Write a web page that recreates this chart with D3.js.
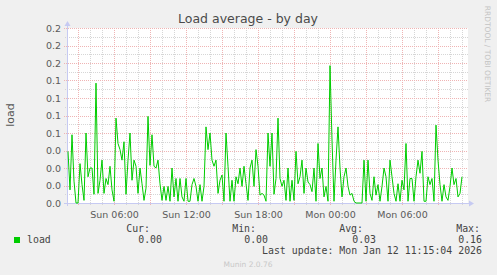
<!DOCTYPE html>
<html>
<head>
<meta charset="utf-8">
<script src="https://cdn.jsdelivr.net/npm/d3@7"></script>
<style>
  html, body { margin: 0; padding: 0; background: #f0f0f0; }
  svg { display: block; }
</style>
</head>
<body>
<script>
// Chart data
const seriesName = "load";
const seriesStart = new Date(2026, 0, 11, 2, 10);   // first sample, Sun 02:10
const stepMinutes = 10;
const loadValues = [
    0.059, 0.015, 0.078, 0.025, 0, 0, 0.045, 0.021, 0.003, 0.08,
    0.03, 0.04, 0.04, 0.01, 0.137, 0.011, 0.026, 0.049, 0.011, 0.028,
    0.021, 0.042, 0.015, 0.002, 0.097, 0.068, 0.061, 0.049, 0.07, 0.01,
    0.049, 0.08, 0.026, 0.049, 0.042, 0.011, 0.04, 0.022, 0.003, 0.017,
    0.099, 0.043, 0.078, 0.042, 0.04, 0.049, 0.022, 0.003, 0.019, 0.003,
    0.019, 0.002, 0.04, 0.007, 0.028, 0.002, 0.028, 0.007, 0.002, 0.028,
    0.002, 0.002, 0.021, 0.028, 0.019, 0.002, 0.021, 0.002, 0.019, 0.087,
    0.061, 0.08, 0.049, 0.042, 0.049, 0.011, 0.026, 0.032, 0.002, 0.08,
    0.042, 0.002, 0.026, 0.002, 0.03, 0.022, 0.04, 0.019, 0.042, 0.022,
    0.003,
    0.04, 0.049, 0.019, 0.061, 0.042, 0.009, 0.011, 0.009, 0.002, 0.08,
    0.042, 0.08, 0.01, 0.028, 0.097, 0.028, 0.019, 0.026, 0.003, 0.04,
    0.002, 0.026, 0.003, 0.059, 0.022, 0.03, 0.049, 0.011, 0.04, 0.024,
    0.021, 0.013, 0.04, 0.002, 0.068, 0.028, 0.04, 0.007, 0.019, 0.002,
    0.157, 0.072, 0.002, 0.049, 0.087, 0.04, 0.007, 0.03, 0.04, 0.019,
    0.009, 0.011, 0.002, 0, 0, 0, 0, 0.049, 0.002, 0.049,
    0.011, 0.003, 0.03, 0.009, 0.021, 0.002, 0.019, 0.04, 0.03, 0.002,
    0.049, 0.03, 0.011, 0.002, 0.022, 0.002, 0.026, 0.015, 0.068, 0.002,
    0.028, 0.028, 0.002, 0.03, 0.049, 0.034, 0.059, 0.002, 0.002, 0.03,
    0.021, 0.028, 0.002, 0.089, 0.049, 0.021, 0.002, 0.021, 0.007, 0.003,
    0.019, 0.04, 0.021, 0.028, 0.007, 0.011, 0.03
];

// Axis ticks
const yTickValues = [0, 0.02, 0.04, 0.06, 0.08, 0.1, 0.12, 0.14, 0.16, 0.18, 0.2];
const yTickLabels = ["0.0", "0.0", "0.0", "0.0", "0.1", "0.1", "0.1", "0.1", "0.2", "0.2", "0.2"];
const xLabelTimes = [
    new Date(2026, 0, 11, 6), new Date(2026, 0, 11, 12), new Date(2026, 0, 11, 18),
    new Date(2026, 0, 12, 0), new Date(2026, 0, 12, 6)
];
const xLabelTexts = ["Sun 06:00", "Sun 12:00", "Sun 18:00", "Mon 00:00", "Mon 06:00"];

// Legend
const legendHeads = ["Cur:", "Min:", "Avg:", "Max:"];
const legendValues = ["0.00", "0.00", "0.03", "0.16"];
const lastUpdate = "Last update: Mon Jan 12 11:15:04 2026";

// Layout
const width = 497, height = 275;
const plotLeft = 67, plotRight = 468, plotTop = 28, plotBottom = 203;
const axisColor = "#c6caf2";
const minorGrid = "#d6d6d6", majorGrid = "#efb4b4";
const sans = "'DejaVu Sans', sans-serif", mono = "'DejaVu Sans Mono', monospace";

const data = loadValues.map((v, i) => ({
    t: new Date(seriesStart.getTime() + i * stepMinutes * 60000),
    v: v
}));

const x = d3.scaleTime()
    .domain([new Date(2026, 0, 11, 2, 5), new Date(2026, 0, 12, 11, 30)])
    .range([plotLeft, plotRight]);
const y = d3.scaleLinear().domain([0, 0.2]).range([plotBottom, plotTop]);

const svg = d3.select("body").append("svg")
    .attr("width", width)
    .attr("height", height);

svg.append("rect").attr("width", width).attr("height", height).attr("fill", "#f0f0f0");
svg.append("rect")
    .attr("x", plotLeft).attr("y", plotTop)
    .attr("width", plotRight - plotLeft).attr("height", plotBottom - plotTop)
    .attr("fill", "#ffffff");

// Grid
const grid = svg.append("g").attr("shape-rendering", "crispEdges").attr("stroke-dasharray", "1,1");

const hours = x.ticks(d3.timeHour.every(1));
grid.selectAll("line.vminor")
    .data(hours.filter(d => d.getHours() % 3 !== 0))
    .join("line")
    .attr("x1", d => Math.round(x(d)) + 0.5).attr("x2", d => Math.round(x(d)) + 0.5)
    .attr("y1", plotTop).attr("y2", plotBottom + 2)
    .attr("stroke", minorGrid);

const yMinor = d3.range(0, 10).map(i => yTickValues[i] + 0.01);
grid.selectAll("line.hminor")
    .data(yMinor)
    .join("line")
    .attr("x1", plotLeft - 2).attr("x2", plotRight)
    .attr("y1", d => Math.round(y(d)) + 0.5).attr("y2", d => Math.round(y(d)) + 0.5)
    .attr("stroke", minorGrid);

grid.selectAll("line.vmajor")
    .data(hours.filter(d => d.getHours() % 3 === 0))
    .join("line")
    .attr("x1", d => Math.round(x(d)) + 0.5).attr("x2", d => Math.round(x(d)) + 0.5)
    .attr("y1", plotTop).attr("y2", plotBottom + 3)
    .attr("stroke", majorGrid);

grid.selectAll("line.hmajor")
    .data(yTickValues.slice(1))
    .join("line")
    .attr("x1", plotLeft - 3).attr("x2", plotRight)
    .attr("y1", d => Math.round(y(d)) + 0.5).attr("y2", d => Math.round(y(d)) + 0.5)
    .attr("stroke", majorGrid);

// Axes
svg.append("line")
    .attr("x1", plotLeft + 0.5).attr("x2", plotLeft + 0.5)
    .attr("y1", plotBottom + 3).attr("y2", plotTop - 5)
    .attr("stroke", axisColor).attr("shape-rendering", "crispEdges");
svg.append("line")
    .attr("x1", plotLeft - 3).attr("x2", plotRight + 2)
    .attr("y1", plotBottom + 0.5).attr("y2", plotBottom + 0.5)
    .attr("stroke", axisColor).attr("shape-rendering", "crispEdges");
svg.append("path")
    .attr("d", `M${plotLeft - 2.5},${plotTop - 2}L${plotLeft + 3.5},${plotTop - 2}L${plotLeft + 0.5},${plotTop - 7}Z`)
    .attr("fill", axisColor);
svg.append("path")
    .attr("d", `M${plotRight + 1},${plotBottom - 2.5}L${plotRight + 1},${plotBottom + 3.5}L${plotRight + 6},${plotBottom + 0.5}Z`)
    .attr("fill", axisColor);

// Y tick labels
svg.append("g")
    .selectAll("text")
    .data(yTickValues)
    .join("text")
    .attr("x", plotLeft - 6)
    .attr("y", d => y(d) + 3.5)
    .attr("text-anchor", "end")
    .attr("font-family", sans).attr("font-size", 9.5)
    .attr("fill", "#5a5a5a")
    .text((d, i) => yTickLabels[i]);

// X tick labels
svg.append("g")
    .selectAll("text")
    .data(xLabelTimes)
    .join("text")
    .attr("x", d => x(d) + 0.5)
    .attr("y", plotBottom + 15)
    .attr("text-anchor", "middle")
    .attr("font-family", sans).attr("font-size", 9.5)
    .attr("fill", "#5a5a5a")
    .text((d, i) => xLabelTexts[i]);

// Series line
svg.append("path")
    .datum(data)
    .attr("fill", "none")
    .attr("stroke", "#00cc00")
    .attr("stroke-width", 1)
    .attr("stroke-linejoin", "round")
    .attr("d", d3.line().x(d => x(d.t)).y(d => y(d.v)));

// Title and labels
svg.append("text")
    .attr("x", 248).attr("y", 23)
    .attr("text-anchor", "middle")
    .attr("font-family", sans).attr("font-size", 12.5)
    .attr("fill", "#4a4a4a")
    .text("Load average - by day");

svg.append("text")
    .attr("transform", "translate(14,115) rotate(-90)")
    .attr("text-anchor", "middle")
    .attr("font-family", sans).attr("font-size", 11)
    .attr("fill", "#555")
    .text("load");

svg.append("text")
    .attr("transform", "translate(485,54) rotate(90)")
    .attr("text-anchor", "middle")
    .attr("font-family", sans).attr("font-size", 7.5)
    .attr("fill", "#c4c4c4")
    .text("RRDTOOL / TOBI OETIKER");

// Legend
const legend = svg.append("g").attr("font-family", mono).attr("font-size", 9.9).attr("fill", "#444");
legend.append("rect")
    .attr("x", 14).attr("y", 237).attr("width", 6).attr("height", 6)
    .attr("fill", "#00cc00");
legend.append("text").attr("x", 27).attr("y", 243).text(seriesName);

const headRight = [150, 256, 363, 480];
const valueRight = [162, 268, 376, 482];
legend.selectAll("text.head")
    .data(legendHeads)
    .join("text")
    .attr("x", (d, i) => headRight[i]).attr("y", 232)
    .attr("text-anchor", "end")
    .text(d => d);
legend.selectAll("text.val")
    .data(legendValues)
    .join("text")
    .attr("x", (d, i) => valueRight[i]).attr("y", 243)
    .attr("text-anchor", "end")
    .text(d => d);
legend.append("text")
    .attr("x", 482).attr("y", 254)
    .attr("text-anchor", "end")
    .text(lastUpdate);

svg.append("text")
    .attr("x", 248).attr("y", 267)
    .attr("text-anchor", "middle")
    .attr("font-family", sans).attr("font-size", 7.5)
    .attr("fill", "#c8c8c8")
    .text("Munin 2.0.76");
</script>
</body>
</html>
